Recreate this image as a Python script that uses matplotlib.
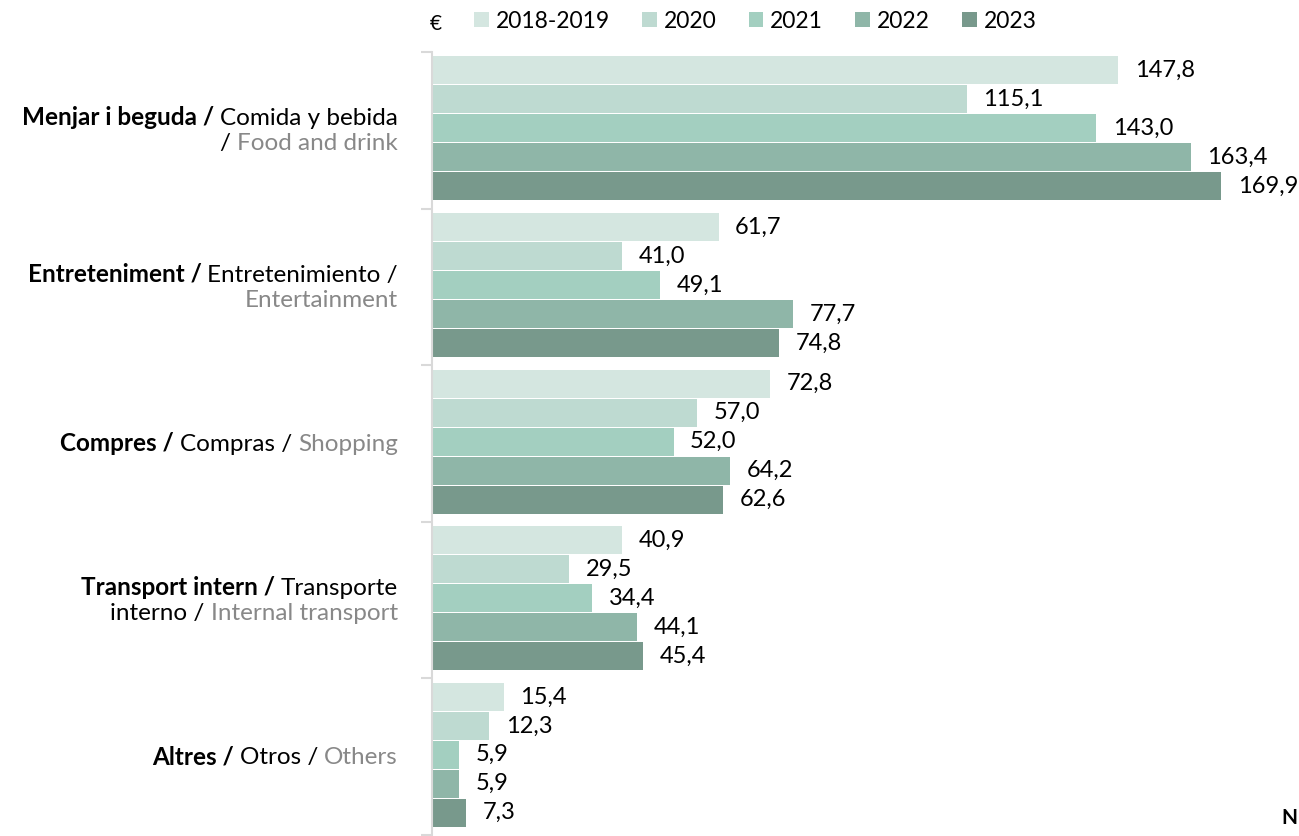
import matplotlib
matplotlib.use("Agg")
import matplotlib.pyplot as plt
from matplotlib.offsetbox import TextArea, HPacker, VPacker, AnnotationBbox
import numpy as np

plt.rcParams['font.family'] = ['Lato', 'DejaVu Sans']

# data
years = ["2018-2019", "2020", "2021", "2022", "2023"]
colors = ["#D4E6E0", "#BEDAD1", "#A3CFC0", "#8FB6A8", "#78998C"]
cat_ca = ["Menjar i beguda", "Entreteniment", "Compres", "Transport intern", "Altres"]
cat_es = ["Comida y bebida", "Entretenimiento", "Compras", "Transporte interno", "Otros"]
cat_en = ["Food and drink", "Entertainment", "Shopping", "Internal transport", "Others"]
values = [
    [147.8, 61.7, 72.8, 40.9, 15.4],   # 2018-2019
    [115.1, 41.0, 57.0, 29.5, 12.3],   # 2020
    [143.0, 49.1, 52.0, 34.4, 5.9],    # 2021
    [163.4, 77.7, 64.2, 44.1, 5.9],    # 2022
    [169.9, 74.8, 62.6, 45.4, 7.3],    # 2023
]

GREY = "#888888"
FS_LAB = 17.5
FS_VAL = 17
FS_LEG = 16.5

fig = plt.figure(figsize=(12.99, 8.36), dpi=100)
ax = fig.add_axes([0.3326, 0.0012, 0.6674, 0.9366])

y = np.arange(len(cat_ca))
step = 0.185
for j, (yr, col) in enumerate(zip(years, colors)):
    pos = y + (j - 2) * step - 0.012
    bars = ax.barh(pos, values[j], height=step - 0.006, color=col, label=yr)
    for b, v in zip(bars, values[j]):
        ax.annotate(f"{v:.1f}".replace(".", ","), (v, b.get_y() + b.get_height() / 2),
                    xytext=(12, 0), textcoords="offset points",
                    ha="left", va="center", fontsize=FS_VAL, color="black")

ax.set_xlim(0, 186.7)
ax.set_ylim(4.5, -0.5)
ax.set_xticks([])
ax.set_yticks([])
ax.set_yticks(np.arange(-0.5, 5.0, 1.0), minor=True)
ax.tick_params(axis="y", which="minor", length=8, width=1.5, color="#D9D9D9", labelleft=False)
for s in ["top", "right", "bottom"]:
    ax.spines[s].set_visible(False)
ax.spines["left"].set_color("#D9D9D9")
ax.spines["left"].set_linewidth(1.5)


def seg(txt, bold=False, color="black"):
    return TextArea(txt, textprops=dict(fontsize=FS_LAB, color=color,
                                        fontweight="bold" if bold else "normal"))


def line(parts):
    return HPacker(children=parts, align="baseline", pad=0, sep=0)


# category labels: bold Catalan / Spanish / grey English
label_lines = [
    [line([seg(cat_ca[0] + " / ", True), seg(cat_es[0])]),
     line([seg("/ "), seg(cat_en[0], color=GREY)])],
    [line([seg(cat_ca[1] + " / ", True), seg(cat_es[1] + " /")]),
     line([seg(cat_en[1], color=GREY)])],
    [line([seg(cat_ca[2] + " / ", True), seg(cat_es[2] + " / "), seg(cat_en[2], color=GREY)])],
    [line([seg(cat_ca[3] + " / ", True), seg(cat_es[3].split()[0])]),
     line([seg(cat_es[3].split()[1] + " / "), seg(cat_en[3], color=GREY)])],
    [line([seg(cat_ca[4] + " / ", True), seg(cat_es[4] + " / "), seg(cat_en[4], color=GREY)])],
]
for i, lines in enumerate(label_lines):
    box = VPacker(children=lines, align="right", pad=0, sep=3)
    ab = AnnotationBbox(box, (0, i), xybox=(-34, 0), xycoords="data",
                        boxcoords="offset pixels", box_alignment=(1, 0.5),
                        frameon=False, annotation_clip=False)
    ax.add_artist(ab)

fig.legend(loc="center left", bbox_to_anchor=(474 / 1299, 1 - 21 / 836), ncol=5,
           frameon=False, fontsize=FS_LEG, handlelength=0.65, handleheight=0.65,
           handletextpad=0.3, columnspacing=1.4, borderaxespad=0, borderpad=0)
fig.text(436 / 1299, 1 - 24 / 836, "€", fontsize=15, ha="center", va="center")
fig.text(1 - 2 / 1299, 1 - 818 / 836, "N", fontsize=15, fontweight="bold",
         ha="right", va="center")

fig.savefig("out.png", dpi=100)
